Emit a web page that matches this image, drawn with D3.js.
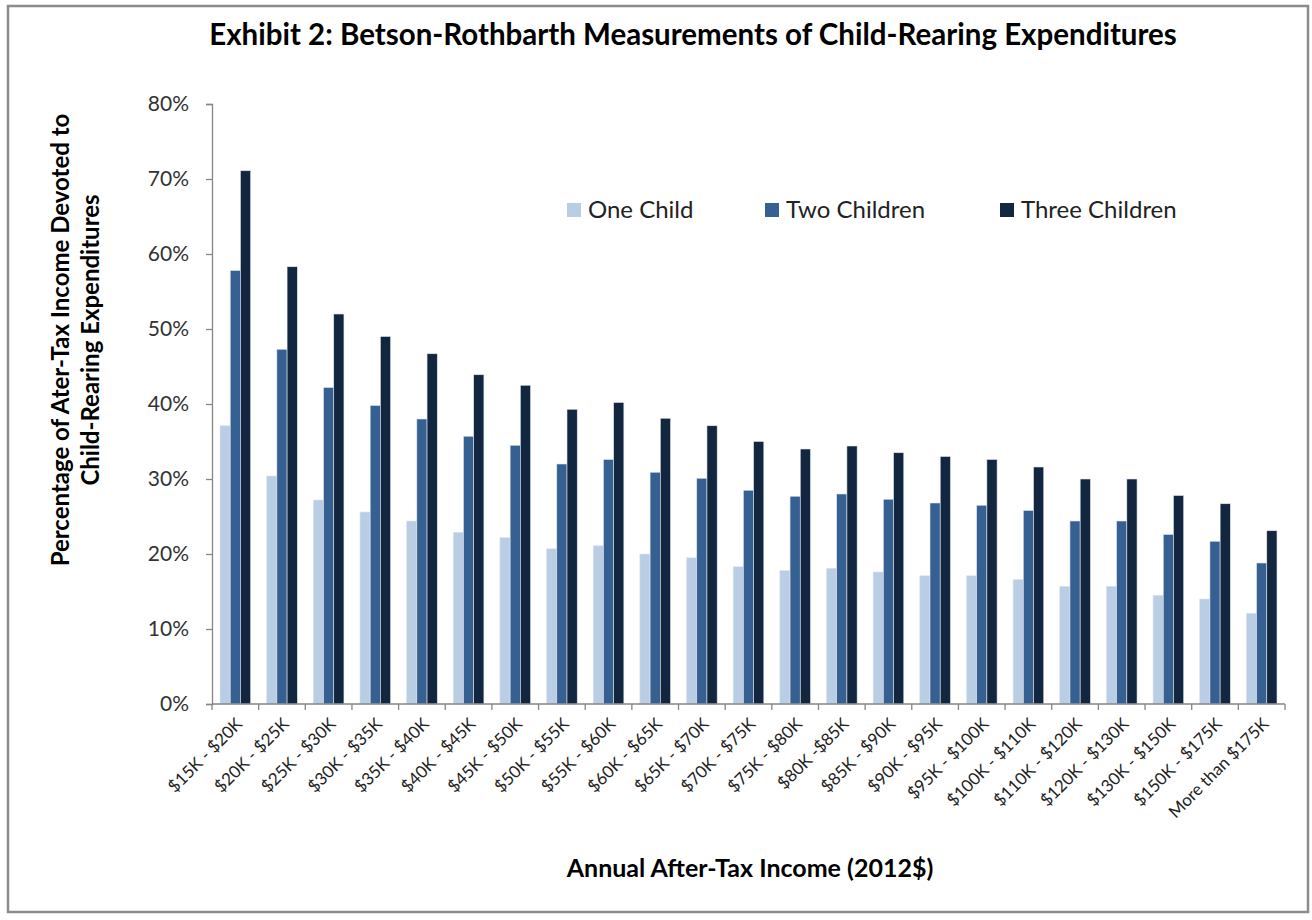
<!DOCTYPE html>
<html>
<head>
<meta charset="utf-8">
<script src="https://cdn.jsdelivr.net/npm/d3@7"></script>
<style>
  html, body { margin: 0; padding: 0; background: #fff; }
  svg { display: block; font-family: Lato, "Open Sans", sans-serif; }
</style>
</head>
<body>
<svg id="chart" width="1312" height="920"></svg>
<script>
const categories = ["$15K - $20K","$20K - $25K","$25K - $30K","$30K - $35K","$35K - $40K","$40K - $45K","$45K - $50K","$50K - $55K","$55K - $60K","$60K - $65K","$65K - $70K","$70K - $75K","$75K - $80K","$80K -$85K","$85K - $90K","$90K - $95K","$95K - $100K","$100K - $110K","$110K - $120K","$120K - $130K","$130K - $150K","$150K - $175K","More than $175K"];
const seriesNames = ["One Child","Two Children","Three Children"];
const oneChild = [37.1,30.4,27.2,25.6,24.4,22.9,22.2,20.7,21.1,20.0,19.5,18.3,17.8,18.1,17.6,17.1,17.1,16.6,15.7,15.7,14.5,14.0,12.1];
const twoChildren = [57.8,47.3,42.2,39.8,38.0,35.7,34.5,32.0,32.6,30.9,30.1,28.5,27.7,28.0,27.3,26.8,26.5,25.8,24.4,24.4,22.6,21.7,18.8];
const threeChildren = [71.1,58.3,52.0,49.0,46.7,43.9,42.5,39.3,40.2,38.1,37.1,35.0,34.0,34.4,33.5,33.0,32.6,31.6,30.0,30.0,27.8,26.7,23.1];
const yTicks = [0,10,20,30,40,50,60,70,80];
const colors = ["#B9CDE5","#376092","#12263F"];

const seriesValues = [oneChild, twoChildren, threeChildren];
const svg = d3.select("#chart");

// outer frame
svg.append("rect").attr("x",8).attr("y",6).attr("width",1300).attr("height",906)
  .attr("fill","#fff").attr("stroke","#8c8c8c").attr("stroke-width",2.5);

const plot = {left:212, right:1285, top:104, bottom:704};

const x = d3.scaleBand().domain(categories).range([plot.left, plot.right])
  .paddingInner(0.343).paddingOuter(0.1715);
const xs = d3.scaleBand().domain(seriesNames).range([0, x.bandwidth()]);
const y = d3.scaleLinear().domain([0,80]).range([plot.bottom, plot.top]);

// title
svg.append("text").attr("x",693).attr("y",45).attr("text-anchor","middle")
  .attr("font-size",29.5).attr("font-weight","bold").attr("fill","#000")
  .text("Exhibit 2: Betson-Rothbarth Measurements of Child-Rearing Expenditures");

// bars
const rows = categories.map((c,i)=>({cat:c, vals: seriesNames.map((s,j)=>({s, v: seriesValues[j][i], j}))}));
const g = svg.append("g");
g.selectAll("g.grp").data(rows).join("g").attr("class","grp")
  .attr("transform", d=>`translate(${x(d.cat)},0)`)
  .selectAll("rect").data(d=>d.vals).join("rect")
  .attr("x", d=>xs(d.s)).attr("width", xs.bandwidth())
  .attr("y", d=>y(d.v)).attr("height", d=>y(0)-y(d.v))
  .attr("fill", d=>colors[d.j])
  .attr("stroke","#dfe5ee").attr("stroke-width",0.6);

// y axis
const yAxis = d3.axisLeft(y).tickValues(yTicks).tickFormat(d=>d+"%").tickSize(6).tickPadding(17);
const ya = svg.append("g").attr("transform",`translate(${plot.left},0)`).call(yAxis);
ya.select(".domain").attr("stroke","#868686").attr("stroke-width",1.3);
ya.selectAll(".tick line").attr("stroke","#868686").attr("stroke-width",1.3);
ya.selectAll(".tick text").attr("font-size",21).attr("fill","#333").attr("font-family","Lato, sans-serif");

// x axis line + boundary ticks
svg.append("line").attr("x1",plot.left).attr("x2",plot.right).attr("y1",y(0)).attr("y2",y(0))
  .attr("stroke","#868686").attr("stroke-width",1.3);
const bounds = d3.range(categories.length+1).map(i=>x.range()[0] + i*x.step());
svg.selectAll("line.xt").data(bounds).join("line").attr("class","xt")
  .attr("x1",d=>d).attr("x2",d=>d).attr("y1",y(0)).attr("y2",y(0)+6)
  .attr("stroke","#868686").attr("stroke-width",1.3);

// x labels
svg.selectAll("text.xl").data(categories).join("text").attr("class","xl")
  .attr("transform", d=>`translate(${x(d)+x.bandwidth()/2+8},${y(0)+21}) rotate(-45)`)
  .attr("text-anchor","end").attr("font-size",17).attr("fill","#222")
  .text(d=>d);

// axis titles
svg.append("text").attr("x",750).attr("y",877).attr("text-anchor","middle")
  .attr("font-size",25).attr("font-weight","bold").attr("fill","#000")
  .text("Annual After-Tax Income (2012$)");
const yt = svg.append("text").attr("transform","translate(69,340) rotate(-90)")
  .attr("text-anchor","middle").attr("font-size",24).attr("font-weight","bold").attr("fill","#000");
yt.append("tspan").attr("x",0).attr("y",0).text("Percentage of Ater-Tax Income Devoted to");
yt.append("tspan").attr("x",0).attr("y",30).text("Child-Rearing Expenditures");

// legend
const legendX = [567, 765, 1000];
const lg = svg.selectAll("g.lg").data(seriesNames).join("g").attr("class","lg")
  .attr("transform",(d,i)=>`translate(${legendX[i]},210)`);
lg.append("rect").attr("x",0).attr("y",-7).attr("width",14).attr("height",14)
  .attr("fill",(d,i)=>colors[i]);
lg.append("text").attr("x",21).attr("y",8).attr("font-size",24).attr("fill","#222").text(d=>d);
</script>
</body>
</html>
